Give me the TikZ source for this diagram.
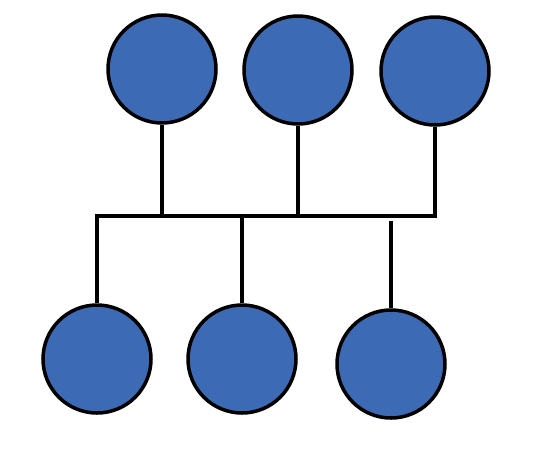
\documentclass[tikz,border=0pt]{standalone}
\usepackage{tikz}
\usetikzlibrary{positioning}
\definecolor{ndblue}{HTML}{3C6AB4}

\begin{document}
\begin{tikzpicture}[
  x=1pt, y=-1pt,
  member/.style={circle, draw=black, fill=ndblue, line width=3.5pt,
                 minimum size=108pt, inner sep=0pt},
  wire/.style={line width=3.5pt, black, line join=miter}
]
\useasboundingbox (0,0) rectangle (553,459);

% Upper row
\node[member] (t1) at (162,69) {};
\node[member] (t2) at (298,70) {};
\node[member] (t3) at (435,71) {};

% Lower row
\node[member] (b1) at (97,359) {};
\node[member] (b2) at (242,359) {};
\node[member] (b3) at (391,364) {};

% Bus line
\coordinate (bus) at (0,216);
\coordinate (gap) at (0,221);

% Wires
\draw[wire] (b1.north) -- (b1.north |- bus) -- (t3.south |- bus) -- (t3.south);
\draw[wire] (t1.south) -- (t1.south |- bus);
\draw[wire] (t2.south) -- (t2.south |- bus);
\draw[wire] (b2.north) -- (b2.north |- bus);
\draw[wire] (b3.north) -- (b3.north |- gap);
\end{tikzpicture}
\end{document}
